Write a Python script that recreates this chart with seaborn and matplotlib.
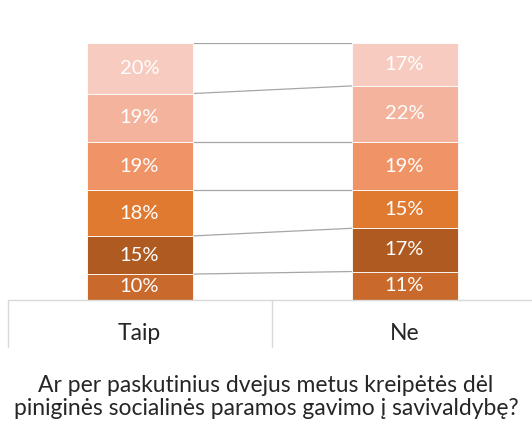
import pandas as pd
import seaborn as sns
import matplotlib.pyplot as plt
from matplotlib.lines import Line2D

# categories and shares (bottom segment first)
categories = ["Taip", "Ne"]
taip = [0.10, 0.15, 0.18, 0.19, 0.19, 0.20]
ne = [0.11, 0.17, 0.15, 0.19, 0.22, 0.17]
colors = ["#C9692B", "#AE5A21", "#E07A30", "#F09468", "#F3B39C", "#F7CBBF"]
title = "Ar per paskutinius dvejus metus kreipėtės dėl\npiniginės socialinės paramos gavimo į savivaldybę?"

sns.set_style("white")
plt.rcParams['font.family'] = ['Lato', 'DejaVu Sans']

fig = plt.figure(figsize=(5.32, 4.24), dpi=100)
W, H = 532, 424
ax = fig.add_axes([7 / W, (H - 299.5) / H, 530 / W, (299.5 - 42.7) / H])

bottoms = [0.0, 0.0]
cum_t, cum_n = [], []
for i, c in enumerate(colors):
    df = pd.DataFrame({"cat": categories, "val": [taip[i], ne[i]]})
    sns.barplot(data=df, x="cat", y="val", color=c, width=0.4, bottom=bottoms,
                edgecolor="white", linewidth=0.6, saturation=1, ax=ax)
    for j, v in enumerate([taip[i], ne[i]]):
        ax.text(j, bottoms[j] + v / 2, f"{round(v * 100)}%", ha="center", va="center",
                color="white", fontsize=14.5)
    bottoms = [bottoms[0] + taip[i], bottoms[1] + ne[i]]
    cum_t.append(bottoms[0])
    cum_n.append(bottoms[1])

# series connector lines
for a, b in zip(cum_t, cum_n):
    ax.plot([0.2, 0.8], [a, b], color="#A6A6A6", linewidth=0.9, zorder=0)

ax.set_xlim(-0.5, 1.5)
ax.set_ylim(0, 1.01)
ax.set_axis_off()

# data-table style category area
lc = "#D9D9D9"
fig.add_artist(Line2D([7.5 / W, 1.0], [(H - 299.5) / H] * 2, color=lc, linewidth=1))
for xp in [7.5, 271.5]:
    fig.add_artist(Line2D([xp / W] * 2, [(H - 299.5) / H, (H - 347) / H], color=lc, linewidth=1))
for j, c in enumerate(categories):
    fig.text((139.5 + 265 * j) / W, (H - 333) / H, c, ha="center", va="center", fontsize=16.5)

fig.text(266 / W, (H - 397) / H, title, ha="center", va="center", fontsize=16.5,
         linespacing=1.15)

fig.savefig("out.png", dpi=100)
